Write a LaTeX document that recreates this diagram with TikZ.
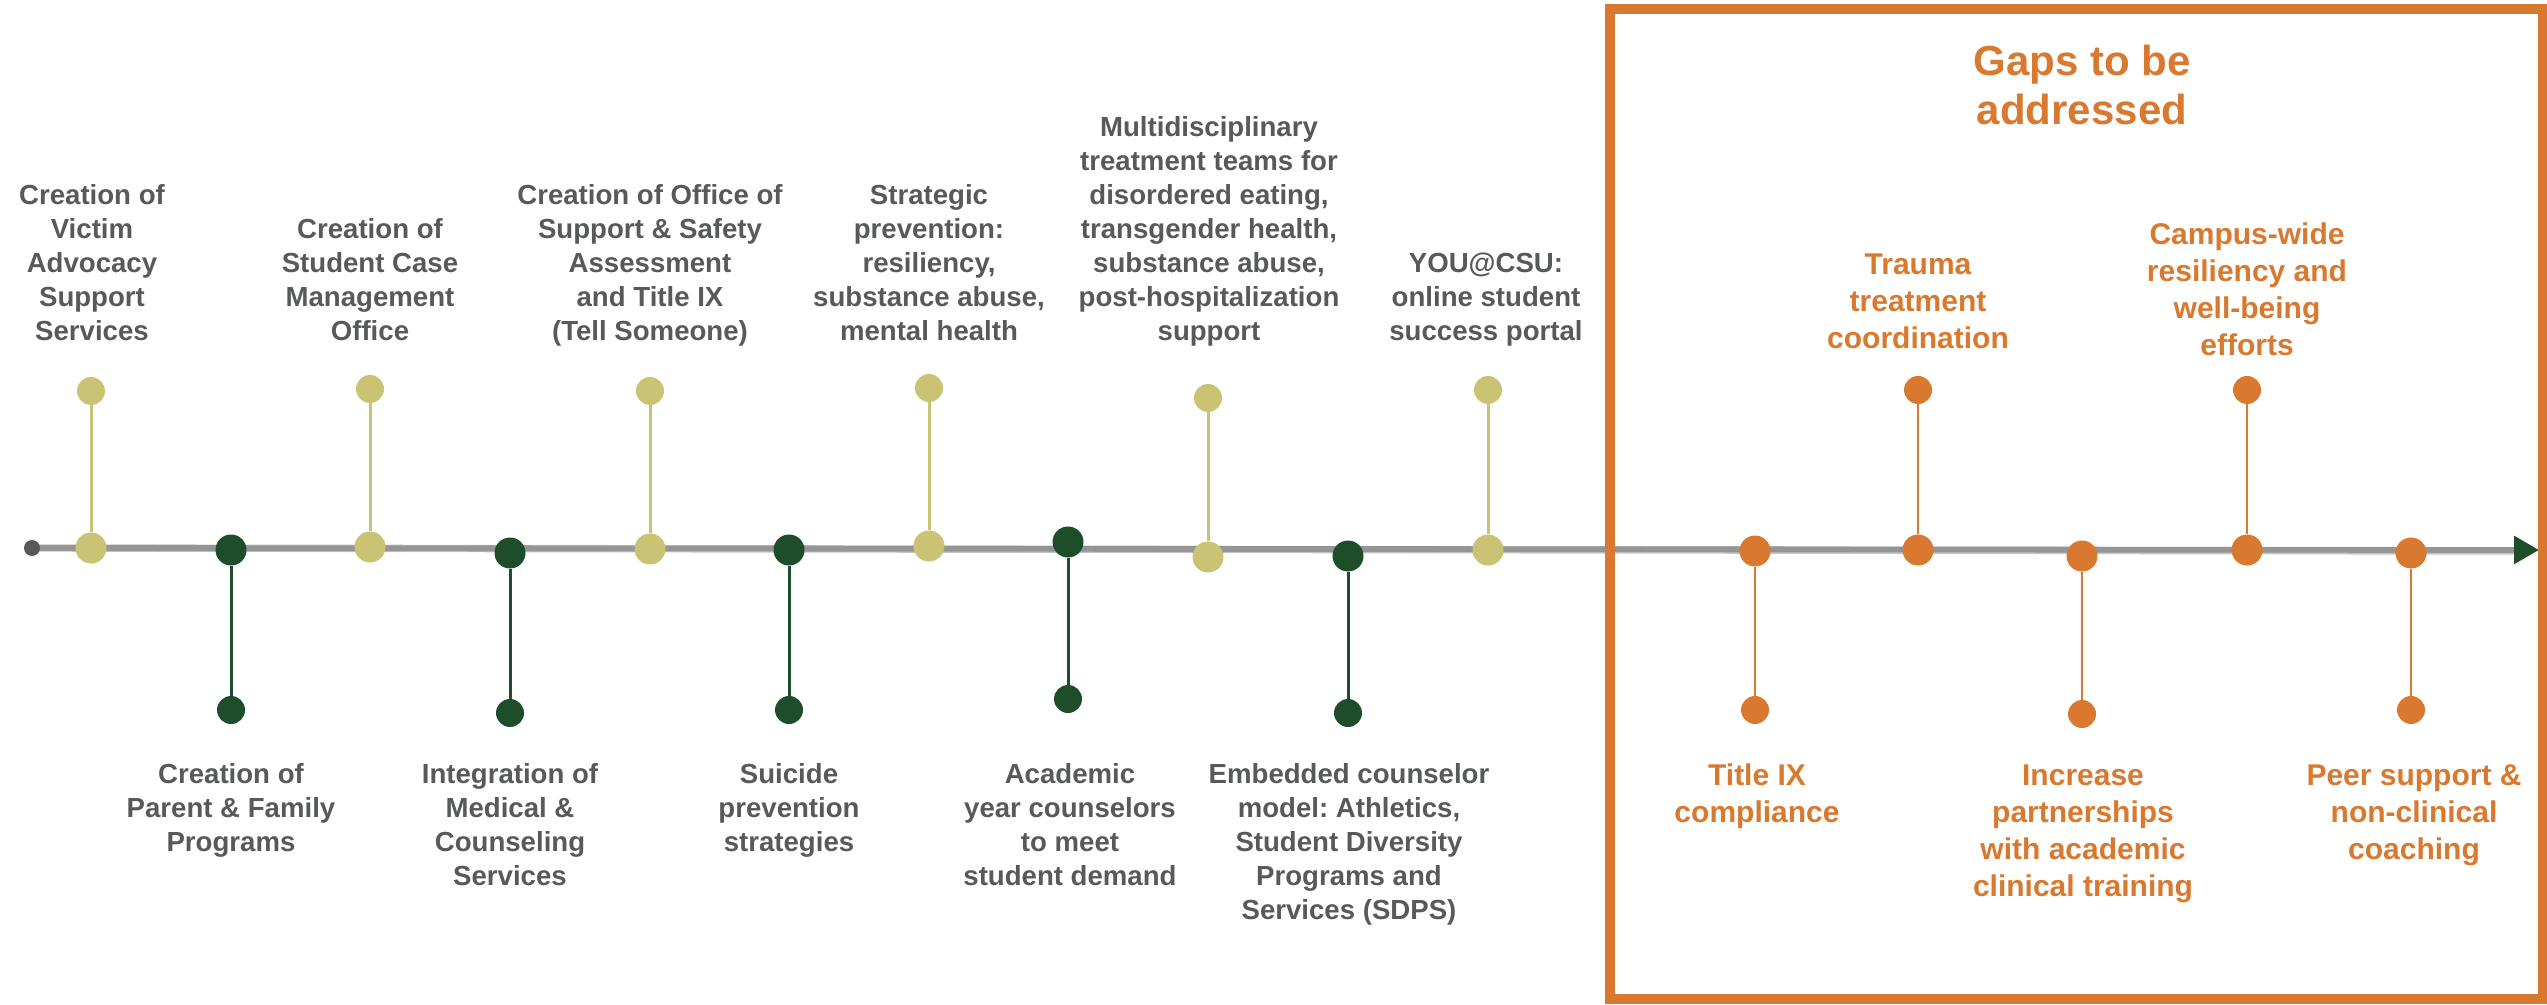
\documentclass[tikz,border=0pt]{standalone}
\usepackage{fontspec}
\setmainfont{Liberation Sans}
\usetikzlibrary{arrows.meta,backgrounds}
\frenchspacing

\definecolor{khaki}{HTML}{C9C373}
\definecolor{csugreen}{HTML}{1E4D2B}
\definecolor{gaporange}{HTML}{D9782F}
\definecolor{inkgray}{HTML}{58595B}
\definecolor{railgray}{HTML}{959595}
\definecolor{raillight}{HTML}{C4C4C4}
\definecolor{startgray}{HTML}{58585A}

\begin{document}
\begin{tikzpicture}[x=0.5pt,y=-0.5pt,
  linedot/.style={circle,inner sep=0pt,minimum size=15.5pt,fill=#1},
  enddot/.style={circle,inner sep=0pt,minimum size=14pt,fill=#1},
  stem/.style={draw=#1,line width=1.5pt},
  graytext/.style={inner sep=0pt,align=center,text=inkgray,
    font=\bfseries\fontsize{13.8}{17}\selectfont},
  uplabel/.style={graytext,anchor=south},
  downlabel/.style={graytext,anchor=north},
  orangetext/.style={inner sep=0pt,align=center,text=gaporange,
    font=\bfseries\fontsize{15}{18.5}\selectfont},
  gapup/.style={orangetext,anchor=south},
  gapdown/.style={orangetext,anchor=north},
]
\useasboundingbox (0,0) rectangle (2547,1005);

% start of the timeline
\node[circle,inner sep=0pt,minimum size=8pt,fill=startgray] (start) at (32,548) {};
\coordinate (railstop) at (2514,551);
\coordinate (railtip) at (2539,550);

% milestones above the rail
\foreach \n/\x/\ly/\ty in {1/91/548/391, 3/370/547/389, 5/650/549/391,
                            7/929/546/388, 9/1208/557/398, 11/1488/550/390}{
  \node[linedot=khaki] (l\n) at (\x,\ly) {};
  \node[enddot=khaki] (t\n) at (\x,\ty) {};
  \draw[stem=khaki] (t\n) -- (l\n);
}
% milestones below the rail
\foreach \n/\x/\ly/\ty in {2/231/550/710, 4/510/553/713, 6/789/550/710,
                            8/1068/542/699, 10/1348/556/713}{
  \node[linedot=csugreen] (l\n) at (\x,\ly) {};
  \node[enddot=csugreen] (t\n) at (\x,\ty) {};
  \draw[stem=csugreen] (l\n) -- (t\n);
}
% gaps
\foreach \n/\x/\ly/\ty in {12/1755/551/710, 13/1918/550/390, 14/2082/556/714,
                            15/2247/550/390, 16/2411/553/710}{
  \node[linedot=gaporange] (l\n) at (\x,\ly) {};
  \node[enddot=gaporange] (t\n) at (\x,\ty) {};
  \draw[draw=gaporange,line width=1.3pt] (l\n) -- (t\n);
}

% timeline rail, kept behind the dots
\begin{pgfonlayer}{background}
\draw[raillight,line width=3.7pt] (start.center) -- (railstop);
\draw[railgray,line width=2.9pt,-{Triangle[length=12.5pt,width=13.5pt,color=csugreen]}]
  (start.center) -- (railtip);
\end{pgfonlayer}

% labels above
\node[uplabel] (a1) at (92,351) {Creation of\\Victim\\Advocacy\\Support\\Services\strut};
\node[uplabel] (a3) at (370,351) {Creation of\\Student Case\\Management\\Office\strut};
\node[uplabel] (a5) at (650,351) {Creation of Office of\\Support \& Safety\\Assessment\\and Title IX\\(Tell Someone)\strut};
\node[uplabel] (a7) at (929,351) {Strategic\\prevention:\\resiliency,\\substance abuse,\\mental health\strut};
\node[uplabel] (a9) at (1209,351) {Multidisciplinary\\treatment teams for\\disordered eating,\\transgender health,\\substance abuse,\\post-hospitalization\\support\strut};
\node[uplabel] (a11) at (1486,351) {YOU@CSU:\\online student\\success portal\strut};

% labels below
\node[downlabel] (b2) at (231,759) {\strut Creation of\\Parent \& Family\\Programs};
\node[downlabel] (b4) at (510,759) {\strut Integration of\\Medical \&\\Counseling\\Services};
\node[downlabel] (b6) at (789,759) {\strut Suicide\\prevention\\strategies};
\node[downlabel] (b8) at (1070,759) {\strut Academic\\year counselors\\to meet\\student demand};
\node[downlabel] (b10) at (1349,759) {\strut Embedded counselor\\model: Athletics,\\Student Diversity\\Programs and\\Services (SDPS)};

% gaps frame and labels
\draw[gaporange,line width=5pt] (1610,9.5) rectangle (2543,999);
\node[inner sep=0pt,align=center,text=gaporange,anchor=north,
  font=\bfseries\fontsize{21}{24.5}\selectfont] (gaps) at (2082,41)
  {\strut Gaps to be\\addressed};
\node[gapup] (a13) at (1918,360) {Trauma\\treatment\\coordination\strut};
\node[gapup] (a15) at (2247,367) {Campus-wide\\resiliency and\\well-being\\efforts\strut};
\node[gapdown] (b12) at (1757,759) {\strut Title IX\\compliance};
\node[gapdown] (b14) at (2083,759) {\strut Increase\\partnerships\\with academic\\clinical training};
\node[gapdown] (b16) at (2414,759) {\strut Peer support \&\\non-clinical\\coaching};
\end{tikzpicture}
\end{document}
